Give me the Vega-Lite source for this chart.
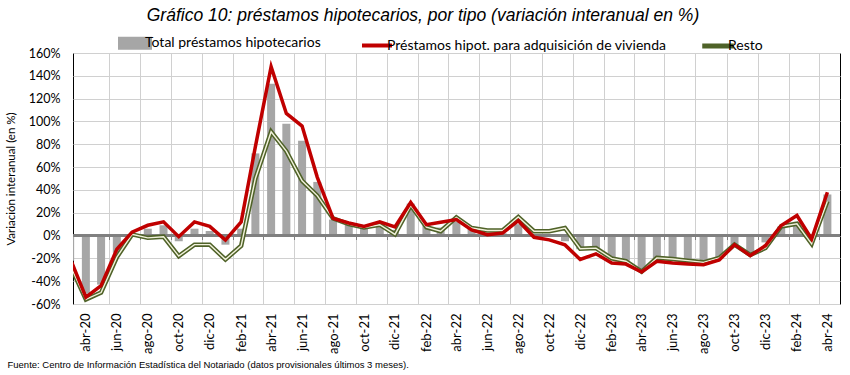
{
  "$schema": "https://vega.github.io/schema/vega-lite/v6.json",
  "width": 767,
  "height": 251,
  "padding": {"left": 5, "top": 6, "right": 12, "bottom": 3},
  "background": "white",
  "title": {
    "text": "Gráfico 10: préstamos hipotecarios, por tipo (variación interanual en %)",
    "font": "Liberation Sans",
    "fontSize": 17.5,
    "fontStyle": "italic",
    "fontWeight": "normal",
    "color": "#000000",
    "anchor": "middle",
    "frame": "bounds",
    "offset": 12
  },
  "data": {
    "values": [
      {"fecha": "2020-03-01", "total": -22, "vivienda": -20, "resto": -26},
      {"fecha": "2020-04-01", "total": -51, "vivienda": -54, "resto": -56},
      {"fecha": "2020-05-01", "total": -43, "vivienda": -44, "resto": -50},
      {"fecha": "2020-06-01", "total": -15, "vivienda": -12, "resto": -19},
      {"fecha": "2020-07-01", "total": 1, "vivienda": 3, "resto": 1},
      {"fecha": "2020-08-01", "total": 6, "vivienda": 9, "resto": -2},
      {"fecha": "2020-09-01", "total": 9, "vivienda": 12, "resto": -1},
      {"fecha": "2020-10-01", "total": -5, "vivienda": -1, "resto": -18},
      {"fecha": "2020-11-01", "total": 6, "vivienda": 12, "resto": -8},
      {"fecha": "2020-12-01", "total": 4, "vivienda": 8, "resto": -8},
      {"fecha": "2021-01-01", "total": -8, "vivienda": -4, "resto": -21},
      {"fecha": "2021-02-01", "total": 6, "vivienda": 12, "resto": -9},
      {"fecha": "2021-03-01", "total": 72, "vivienda": 78, "resto": 50},
      {"fecha": "2021-04-01", "total": 133, "vivienda": 148, "resto": 91},
      {"fecha": "2021-05-01", "total": 98, "vivienda": 107, "resto": 74},
      {"fecha": "2021-06-01", "total": 83, "vivienda": 96, "resto": 48},
      {"fecha": "2021-07-01", "total": 47, "vivienda": 51, "resto": 35},
      {"fecha": "2021-08-01", "total": 14, "vivienda": 15, "resto": 15},
      {"fecha": "2021-09-01", "total": 10, "vivienda": 11, "resto": 10},
      {"fecha": "2021-10-01", "total": 7, "vivienda": 8, "resto": 7},
      {"fecha": "2021-11-01", "total": 9, "vivienda": 12, "resto": 9.5},
      {"fecha": "2021-12-01", "total": 5, "vivienda": 7.5, "resto": 1},
      {"fecha": "2022-01-01", "total": 28, "vivienda": 29, "resto": 26.5},
      {"fecha": "2022-02-01", "total": 9, "vivienda": 9.5, "resto": 7.3},
      {"fecha": "2022-03-01", "total": 7, "vivienda": 11.7, "resto": 3.8},
      {"fecha": "2022-04-01", "total": 12, "vivienda": 14, "resto": 16},
      {"fecha": "2022-05-01", "total": 6, "vivienda": 5, "resto": 6.6},
      {"fecha": "2022-06-01", "total": 2, "vivienda": 0.7, "resto": 4.4},
      {"fecha": "2022-07-01", "total": 2, "vivienda": 2.2, "resto": 4.4},
      {"fecha": "2022-08-01", "total": 10, "vivienda": 13, "resto": 16.3},
      {"fecha": "2022-09-01", "total": 1, "vivienda": -1.5, "resto": 3.8},
      {"fecha": "2022-10-01", "total": 0, "vivienda": -3.8, "resto": 3.8},
      {"fecha": "2022-11-01", "total": -5, "vivienda": -8.2, "resto": 6.6},
      {"fecha": "2022-12-01", "total": -12, "vivienda": -21, "resto": -11.5},
      {"fecha": "2023-01-01", "total": -12, "vivienda": -16, "resto": -11},
      {"fecha": "2023-02-01", "total": -19, "vivienda": -24, "resto": -20},
      {"fecha": "2023-03-01", "total": -22, "vivienda": -25, "resto": -22.5},
      {"fecha": "2023-04-01", "total": -31, "vivienda": -32, "resto": -31.7},
      {"fecha": "2023-05-01", "total": -20.5, "vivienda": -22.6, "resto": -19.6},
      {"fecha": "2023-06-01", "total": -22, "vivienda": -24, "resto": -20.5},
      {"fecha": "2023-07-01", "total": -22, "vivienda": -25, "resto": -22},
      {"fecha": "2023-08-01", "total": -23.5, "vivienda": -25.5, "resto": -23.5},
      {"fecha": "2023-09-01", "total": -20.5, "vivienda": -21.4, "resto": -19.6},
      {"fecha": "2023-10-01", "total": -8.5, "vivienda": -8, "resto": -8},
      {"fecha": "2023-11-01", "total": -16, "vivienda": -17.6, "resto": -17},
      {"fecha": "2023-12-01", "total": -6, "vivienda": -8.8, "resto": -10.9},
      {"fecha": "2024-01-01", "total": 8, "vivienda": 8.8, "resto": 8},
      {"fecha": "2024-02-01", "total": 12, "vivienda": 17.6, "resto": 10.3},
      {"fecha": "2024-03-01", "total": -3, "vivienda": -3, "resto": -7.3},
      {"fecha": "2024-04-01", "total": 36, "vivienda": 38, "resto": 30}
    ]
  },
  "layer": [
    {
      "mark": {"type": "bar", "width": 8, "clip": true},
      "encoding": {
        "x": {
          "field": "fecha", "type": "temporal",
          "scale": {"type": "utc", "domain": [{"year": 2020, "month": 3, "date": 16, "hours": 12, "utc": true}, {"year": 2024, "month": 4, "date": 16, "utc": true}]},
          "title": "Fuente: Centro de Información Estadística del Notariado (datos provisionales últimos 3 meses).",
          "axis": {
            "orient": "bottom",
            "values": [
              {"year": 2020, "month": 4, "date": 1, "utc": true}, {"year": 2020, "month": 6, "date": 1, "utc": true},
              {"year": 2020, "month": 8, "date": 1, "utc": true}, {"year": 2020, "month": 10, "date": 1, "utc": true},
              {"year": 2020, "month": 12, "date": 1, "utc": true}, {"year": 2021, "month": 2, "date": 1, "utc": true},
              {"year": 2021, "month": 4, "date": 1, "utc": true}, {"year": 2021, "month": 6, "date": 1, "utc": true},
              {"year": 2021, "month": 8, "date": 1, "utc": true}, {"year": 2021, "month": 10, "date": 1, "utc": true},
              {"year": 2021, "month": 12, "date": 1, "utc": true}, {"year": 2022, "month": 2, "date": 1, "utc": true},
              {"year": 2022, "month": 4, "date": 1, "utc": true}, {"year": 2022, "month": 6, "date": 1, "utc": true},
              {"year": 2022, "month": 8, "date": 1, "utc": true}, {"year": 2022, "month": 10, "date": 1, "utc": true},
              {"year": 2022, "month": 12, "date": 1, "utc": true}, {"year": 2023, "month": 2, "date": 1, "utc": true},
              {"year": 2023, "month": 4, "date": 1, "utc": true}, {"year": 2023, "month": 6, "date": 1, "utc": true},
              {"year": 2023, "month": 8, "date": 1, "utc": true}, {"year": 2023, "month": 10, "date": 1, "utc": true},
              {"year": 2023, "month": 12, "date": 1, "utc": true}, {"year": 2024, "month": 2, "date": 1, "utc": true},
              {"year": 2024, "month": 4, "date": 1, "utc": true}
            ],
            "labelExpr": "['ene','feb','mar','abr','may','jun','jul','ago','sep','oct','nov','dic'][utcmonth(datum.value)] + '-' + utcFormat(datum.value, '%y')",
            "labelAngle": -90,
            "labelFont": "Lato",
            "labelFontSize": 13,
            "labelColor": "#000000",
            "labelPadding": 9,
            "labelFlush": false,
            "labelOverlap": false,
            "ticks": false,
            "domain": false,
            "grid": false,
            "titleFont": "Liberation Sans",
            "titleFontSize": 9.5,
            "titleFontWeight": "normal",
            "titleColor": "#000000",
            "titleAnchor": "start",
            "titleAlign": "left",
            "titleBaseline": "top",
            "titleX": -66,
            "titleY": 55
          }
        },
        "y": {
          "field": "total", "type": "quantitative",
          "scale": {"domain": [-60, 160], "nice": false},
          "title": "Variación interanual (en %)"
        },
        "color": {
          "datum": "Total préstamos hipotecarios",
          "scale": {
            "domain": ["Total préstamos hipotecarios", "Préstamos hipot. para adquisición de vivienda", "Resto"],
            "range": ["#a6a6a6", "#c00000", "#4f6228"]
          },
          "legend": {
            "title": null,
            "orient": "none",
            "direction": "horizontal",
            "legendX": 55,
            "legendY": -17,
            "symbolSize": 900,
            "columnPadding": 33,
            "labelOffset": 3,
            "labelLimit": 0,
            "labelFont": "Lato",
            "labelFontSize": 14,
            "labelColor": "#000000",
            "encode": {
              "symbols": {
                "update": {
                  "shape": {"signal": "datum.value === 'Total préstamos hipotecarios' ? 'M-1,-0.3H1V0.3H-1Z' : (datum.value === 'Resto' ? 'M-1,-0.12H1V0.12H-1Z' : 'M-1,0H1')"},
                  "fill": {"signal": "datum.value === 'Total préstamos hipotecarios' ? '#a6a6a6' : (datum.value === 'Resto' ? '#f2f2dc' : 'transparent')"},
                  "stroke": {"signal": "datum.value === 'Total préstamos hipotecarios' ? 'transparent' : (datum.value === 'Resto' ? '#4f6228' : '#c00000')"},
                  "strokeWidth": {"signal": "datum.value === 'Resto' ? 1.5 : 4"},
                  "opacity": {"value": 1}
                }
              }
            }
          }
        }
      }
    },
    {
      "mark": {"type": "rule", "color": "#808080", "strokeWidth": 1.5},
      "encoding": {
        "y": {"datum": 0, "type": "quantitative", "title": "Variación interanual (en %)"}
      }
    },
    {
      "mark": {"type": "line", "strokeWidth": 4.5, "clip": true},
      "encoding": {
        "x": {
          "field": "fecha", "type": "temporal",
          "scale": {"type": "utc", "domain": [{"year": 2020, "month": 3, "date": 16, "hours": 12, "utc": true}, {"year": 2024, "month": 4, "date": 16, "utc": true}]},
          "title": null,
          "axis": {
            "orient": "top",
            "values": [
              {"year": 2020, "month": 5, "date": 16, "utc": true}, {"year": 2020, "month": 7, "date": 16, "utc": true},
              {"year": 2020, "month": 9, "date": 16, "utc": true}, {"year": 2020, "month": 11, "date": 16, "utc": true},
              {"year": 2021, "month": 1, "date": 16, "utc": true}, {"year": 2021, "month": 3, "date": 16, "utc": true},
              {"year": 2021, "month": 5, "date": 16, "utc": true}, {"year": 2021, "month": 7, "date": 16, "utc": true},
              {"year": 2021, "month": 9, "date": 16, "utc": true}, {"year": 2021, "month": 11, "date": 16, "utc": true},
              {"year": 2022, "month": 1, "date": 16, "utc": true}, {"year": 2022, "month": 3, "date": 16, "utc": true},
              {"year": 2022, "month": 5, "date": 16, "utc": true}, {"year": 2022, "month": 7, "date": 16, "utc": true},
              {"year": 2022, "month": 9, "date": 16, "utc": true}, {"year": 2022, "month": 11, "date": 16, "utc": true},
              {"year": 2023, "month": 1, "date": 16, "utc": true}, {"year": 2023, "month": 3, "date": 16, "utc": true},
              {"year": 2023, "month": 5, "date": 16, "utc": true}, {"year": 2023, "month": 7, "date": 16, "utc": true},
              {"year": 2023, "month": 9, "date": 16, "utc": true}, {"year": 2023, "month": 11, "date": 16, "utc": true},
              {"year": 2024, "month": 1, "date": 16, "utc": true}, {"year": 2024, "month": 3, "date": 16, "utc": true}
            ],
            "labels": false,
            "ticks": false,
            "domain": false,
            "grid": true,
            "gridColor": "#d0d0d0",
            "gridWidth": 1
          }
        },
        "y": {"field": "resto", "type": "quantitative", "title": "Variación interanual (en %)"},
        "color": {"datum": "Resto"}
      }
    },
    {
      "mark": {"type": "line", "strokeWidth": 1.4, "color": "#f2f2dc", "clip": true},
      "encoding": {
        "x": {
          "field": "fecha", "type": "temporal",
          "scale": {"type": "utc", "domain": [{"year": 2020, "month": 3, "date": 16, "hours": 12, "utc": true}, {"year": 2024, "month": 4, "date": 16, "utc": true}]},
          "title": null,
          "axis": {
            "orient": "bottom",
            "offset": -68.5,
            "values": [
              {"year": 2020, "month": 5, "date": 16, "utc": true}, {"year": 2020, "month": 7, "date": 16, "utc": true},
              {"year": 2020, "month": 9, "date": 16, "utc": true}, {"year": 2020, "month": 11, "date": 16, "utc": true},
              {"year": 2021, "month": 1, "date": 16, "utc": true}, {"year": 2021, "month": 3, "date": 16, "utc": true},
              {"year": 2021, "month": 5, "date": 16, "utc": true}, {"year": 2021, "month": 7, "date": 16, "utc": true},
              {"year": 2021, "month": 9, "date": 16, "utc": true}, {"year": 2021, "month": 11, "date": 16, "utc": true},
              {"year": 2022, "month": 1, "date": 16, "utc": true}, {"year": 2022, "month": 3, "date": 16, "utc": true},
              {"year": 2022, "month": 5, "date": 16, "utc": true}, {"year": 2022, "month": 7, "date": 16, "utc": true},
              {"year": 2022, "month": 9, "date": 16, "utc": true}, {"year": 2022, "month": 11, "date": 16, "utc": true},
              {"year": 2023, "month": 1, "date": 16, "utc": true}, {"year": 2023, "month": 3, "date": 16, "utc": true},
              {"year": 2023, "month": 5, "date": 16, "utc": true}, {"year": 2023, "month": 7, "date": 16, "utc": true},
              {"year": 2023, "month": 9, "date": 16, "utc": true}, {"year": 2023, "month": 11, "date": 16, "utc": true},
              {"year": 2024, "month": 1, "date": 16, "utc": true}, {"year": 2024, "month": 3, "date": 16, "utc": true}
            ],
            "labels": false,
            "ticks": true,
            "tickSize": 4,
            "tickColor": "#808080",
            "tickWidth": 1,
            "domain": false,
            "grid": false
          }
        },
        "y": {"field": "resto", "type": "quantitative", "title": "Variación interanual (en %)"}
      }
    },
    {
      "mark": {"type": "line", "strokeWidth": 3.5, "clip": true},
      "encoding": {
        "x": {
          "field": "fecha", "type": "temporal",
          "scale": {"type": "utc", "domain": [{"year": 2020, "month": 3, "date": 16, "hours": 12, "utc": true}, {"year": 2024, "month": 4, "date": 16, "utc": true}]},
          "title": null,
          "axis": null
        },
        "y": {"field": "vivienda", "type": "quantitative", "title": "Variación interanual (en %)"},
        "color": {"datum": "Préstamos hipot. para adquisición de vivienda"}
      }
    }
  ],
  "resolve": {"axis": {"x": "independent"}},
  "config": {
    "font": "Lato",
    "view": {"stroke": "#000000", "strokeWidth": 1},
    "axisY": {
      "tickCount": 11,
      "labelOverlap": false,
      "labelSeparation": 0,
      "labelExpr": "datum.value + '%'",
      "grid": true,
      "gridColor": "#d0d0d0",
      "domain": false,
      "ticks": false,
      "labelFont": "Lato",
      "labelFontSize": 12.5,
      "labelColor": "#000000",
      "labelPadding": 13,
      "titleFont": "Lato",
      "titleFontSize": 11.5,
      "titleFontWeight": "normal",
      "titleColor": "#000000",
      "titlePadding": 12
    }
  }
}
